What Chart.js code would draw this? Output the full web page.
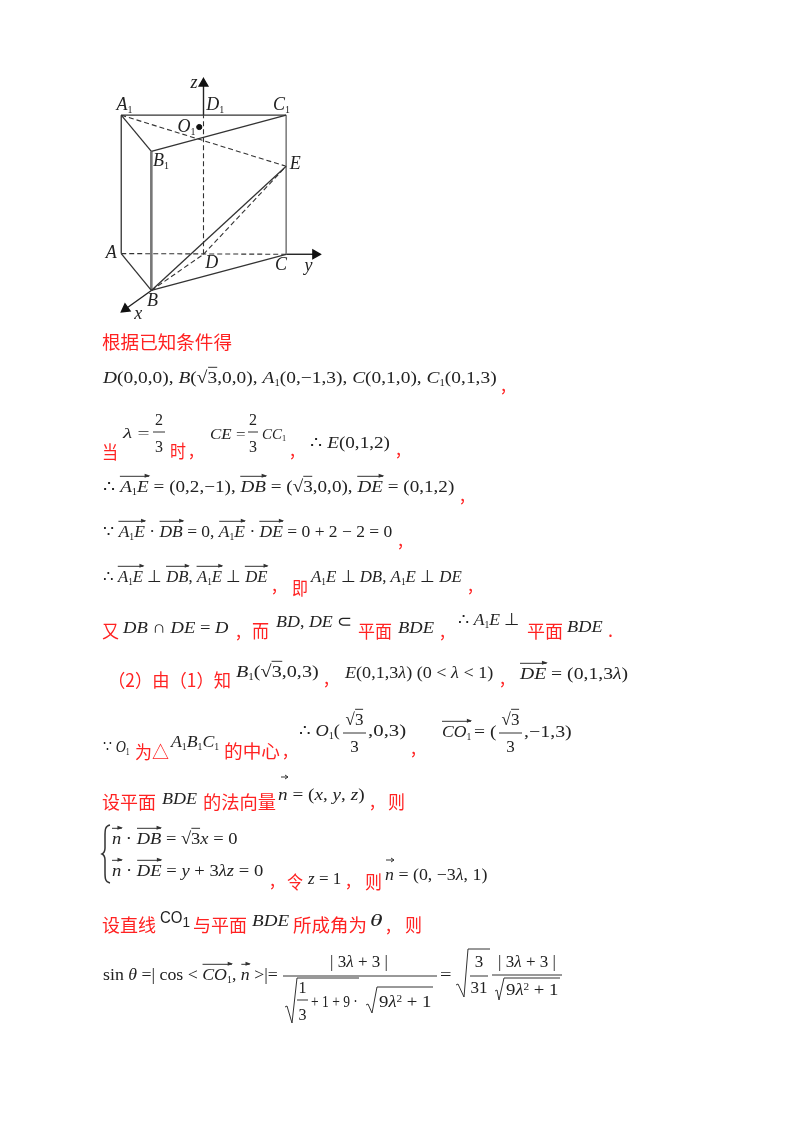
<!DOCTYPE html>
<html><head><meta charset="utf-8">
<script src="https://cdn.jsdelivr.net/npm/chart.js@4"></script>
<style>
html,body{margin:0;padding:0;background:#fff;width:800px;height:1134px;overflow:hidden}
#wrap{position:relative;width:800px;height:1134px}
canvas{position:absolute;left:0;top:0;filter:blur(.45px)}
#txt{position:absolute;left:0;top:0;width:800px;height:1134px;filter:blur(.4px)}
#deco{position:absolute;left:0;top:0;filter:blur(.4px)}
.t{position:absolute;white-space:nowrap;line-height:1.2;font-family:"Liberation Serif",serif;font-size:17px;color:#222;transform-origin:left center}
.r{color:#f22;font-family:"Noto Sans CJK SC",sans-serif;font-size:18px}
.s{font-size:.55em;position:relative;top:.28em;line-height:0;font-style:normal}
.u{font-size:.6em;position:relative;top:-.5em;line-height:0}
.v{position:relative;border-top:1px solid #333}
.v::after{content:"";position:absolute;right:-1px;top:-3px;border-left:5px solid #333;border-top:2px solid transparent;border-bottom:2px solid transparent}
.o{border-top:1px solid #333}
</style></head><body>
<div id="wrap"><canvas id="c" width="800" height="1134"></canvas><div id="txt"></div>
<svg id="deco" width="800" height="1134" fill="none" stroke="#333" stroke-width="1"></svg></div>
<script>
// Figure vertices (page-scale units)
const vertexNames = ["A1","C1","B1","A","C","B","E","D","D1"];
const vertexX = [116.7,284.3,147.3,116.7,284.3,147.3,284.3,200.3,200.3];
const vertexY = [110,110,146.7,250,250.7,287.3,161.7,250.7,110];
const solidEdges = [["A1","C1"],["A1","A"],["A1","B1"],["B1","C1"],["A","B"],["B","C"],["B","E"]];
const greyEdges = [["C1","C"],["B1","B"]];
const dashedEdges = [["A","C"],["D","D1"],["A1","E"],["B","D"],["D","E"]];
const axisNames = ["z","y","x"];
const axisFromX = [200.3,284.3,147.3];
const axisFromY = [110,250.7,287.3];
const axisToX = [200.3,314,121];
const axisToY = [78,250.7,306];
const centerPointX = [196];
const centerPointY = [122];
const labelNames = ["A","D","C","E","B","A","D","C","y","B","x","z","O"];
const labelSubs = ["1","1","1","","1","","","","","","","","1"];
const labelX = [112,203,271,288,149,101,202,273,303,143,130,187,174];
const labelY = [100,100,100,160,157,250,260,262,263,298,311,78,122];

const idx = n => vertexNames.indexOf(n);
const seg = (e,color,width,dash) => ({type:'scatter',showLine:true,
  data:e.map(n=>({x:vertexX[idx(n)],y:vertexY[idx(n)]})),
  borderColor:color,borderWidth:width,borderDash:dash,pointRadius:0,clip:false});
const datasets = [];
solidEdges.forEach(e=>datasets.push(seg(e,'#333',1.3,[])));
greyEdges.forEach((e,i)=>datasets.push(seg(e,'#777',i?2.6:1.5,[])));
dashedEdges.forEach(e=>datasets.push(seg(e,'#333',1.1,[5,3])));
axisNames.forEach((a,i)=>{
  const dx=axisToX[i]-axisFromX[i], dy=axisToY[i]-axisFromY[i];
  datasets.push({type:'scatter',showLine:true,
    data:[{x:axisFromX[i],y:axisFromY[i]},{x:axisToX[i],y:axisToY[i]}],
    borderColor:'#222',borderWidth:1.4,backgroundColor:'#111',pointBorderColor:'#111',
    pointRadius:[0,5],pointStyle:'triangle',pointRotation:Math.atan2(dx,-dy)*180/Math.PI,clip:false});
});
datasets.push({type:'scatter',data:centerPointX.map((x,i)=>({x,y:centerPointY[i]})),
  backgroundColor:'#111',borderColor:'#111',pointRadius:2.6});

const labelPlugin={id:'labels',afterDatasetsDraw(ch){
  const g=ch.ctx,sx=ch.scales.x,sy=ch.scales.y;
  g.save();g.fillStyle='#222';g.textBaseline='middle';g.textAlign='left';
  labelNames.forEach((n,i)=>{
    const px=sx.getPixelForValue(labelX[i]),py=sy.getPixelForValue(labelY[i]);
    g.font='italic 18px "Liberation Serif"';g.fillText(n,px,py);
    if(labelSubs[i]){const w=g.measureText(n).width;
      g.font='10px "Liberation Serif"';g.fillText(labelSubs[i],px+w,py+5);}
  });g.restore();}};
new Chart(document.getElementById('c'),{data:{datasets},plugins:[labelPlugin],options:{
  responsive:false,devicePixelRatio:1,animation:false,layout:{padding:0},
  plugins:{legend:{display:false},tooltip:{enabled:false}},
  scales:{x:{type:'linear',display:false,min:0,max:800},y:{type:'linear',display:false,reverse:true,min:0,max:1134}}}});

// Page text
const box=document.getElementById('txt'),deco=document.getElementById('deco');
function T(x0,x1,y,html,cls,size){const d=document.createElement('div');d.className='t '+(cls||'');
  d.innerHTML=html;d.style.left=x0+'px';d.style.top=y+'px';if(size)d.style.fontSize=size+'px';box.appendChild(d);
  const k=x1?(x1-x0)/d.offsetWidth:1;d.style.transform=`translateY(-50%) scaleX(${k})`;}
const R=(x0,x1,y,s)=>T(x0,x1,y,s,'r');
const K=(x,y)=>T(x-2,0,y-6,',','r');
const Cn=(x,y,s,size)=>{const d=document.createElement('div');d.className='t';d.innerHTML=s;d.style.left=x+'px';d.style.top=y+'px';
  if(size)d.style.fontSize=size+'px';d.style.transform='translate(-50%,-50%)';box.appendChild(d);};
function P(p,extra){const e=document.createElementNS('http://www.w3.org/2000/svg','polyline');e.setAttribute('points',p);
  if(extra)e.setAttribute('stroke-width',extra);deco.appendChild(e);}
const Frac=(x0,x1,a,b,c,n,m,size)=>{Cn((x0+x1)/2,a,n,size);P(`${x0},${b} ${x1},${b}`);Cn((x0+x1)/2,c,m,size);};
const Rad=(xa,ym,xb,yb,xc,yt,xe)=>P(`${xa},${ym} ${xa+2},${ym-1} ${xb},${yb} ${xc},${yt} ${xe},${yt}`);
const Arr=(x0,x1,y)=>{P(`${x0},${y} ${x1},${y}`);P(`${x1-3},${y-2} ${x1},${y} ${x1-3},${y+2}`);};
const s1='<span class="s">1</span>',I=s=>`<i>${s}</i>`,V=s=>`<span class="v">${s}</span>`;
const rt3='√<span class="o">3</span>',A1E=I('A')+s1+I('E'),vA1E=V(A1E),vDB=V(I('DB')),vDE=V(I('DE'));

R(102,232,342,'根据已知条件得');
T(103,497,378,`${I('D')}(0,0,0), ${I('B')}(${rt3},0,0), ${I('A')}${s1}(0,−1,3), ${I('C')}(0,1,0), ${I('C')}${s1}(0,1,3)`);K(503,390);

R(102,118,452,'当');T(123,150,433,`${I('λ')} =`,'',15);Frac(153,165,420,432,447,'2','3',16);
R(170,186,451,'时');K(191,455);
T(210,245,434,`${I('CE')} =`,'',15);Frac(248,258,420,432,447,'2','3',16);T(262,286,434,`${I('CC')}${s1}`,'',15);K(292,455);
T(310,390,443,`∴ ${I('E')}(0,1,2)`);K(398,454);

T(103,454,487,`∴ ${vA1E} = (0,2,−1), ${vDB} = (${rt3},0,0), ${vDE} = (0,1,2)`);K(462,500);
T(103,392,532,`∵ ${vA1E} · ${vDB} = 0, ${vA1E} · ${vDE} = 0 + 2 − 2 = 0`);K(400,545);

T(102.5,267,577,`∴ ${vA1E} ⊥ ${vDB}, ${vA1E} ⊥ ${vDE}`);K(274,590);R(292,308,588,'即');
T(311,462,577,`${A1E} ⊥ ${I('DB')}, ${A1E} ⊥ ${I('DE')}`);K(470,590);

R(102,119,631,'又');T(123,229,628,`${I('DB')} ∩ ${I('DE')} = ${I('D')}`);K(238,636);R(252,269,631,'而');
T(276,352,622,`${I('BD')}, ${I('DE')} ⊂`);R(358,392,631,'平面');T(398,434,628,I('BDE'));K(442,636);
T(458,520,620,`∴ ${A1E} ⊥`);R(527,563,631,'平面');T(567,602.5,627,I('BDE'));T(608,0,630,'.','r');

R(108,231,680,'（2）由（1）知');T(236,319,672,`${I('B')}${s1}(${rt3},0,3)`);K(326,683);
T(345,493,673,`${I('E')}(0,1,3${I('λ')}) (0 &lt; ${I('λ')} &lt; 1)`);K(502,683);
T(520,627.5,674,`${vDE} = (0,1,3${I('λ')})`);

T(102.5,129,747,`∵ ${I('O')}${s1}`);R(135,169,752,'为△');T(171,219,742,`${I('A')}${s1}${I('B')}${s1}${I('C')}${s1}`);
R(224,280,751,'的中心');K(285,755);
T(299,340,731,`∴ ${I('O')}${s1}(`);Frac(343,366,720,733,747,rt3,'3');T(368,406,731,',0,3)');K(413,753);
T(442,471,732,V(I('CO')+s1));T(474,497,732,'= (');Frac(499,522,720,733,747,rt3,'3');T(524,572,732,',−1,3)');

R(102,156,802,'设平面');T(162,197,799,I('BDE'));R(203,276,802,'的法向量');
T(278,365,795,`${I('n')} = (${I('x')}, ${I('y')}, ${I('z')})`);Arr(281,288,777);K(372,806);R(388,405,802,'则');

deco.insertAdjacentHTML('beforeend','<path d="M110 825 C105 826 105 830 105 836 L105 848 C105 852 104 853 102 854 C104 855 105 856 105 860 L105 872 C105 878 105 882 110 883" stroke-width="1.5"/>');
T(112,237,839,`${V(I('n'))} · ${vDB} = ${rt3}${I('x')} = 0`);
T(112,263,871,`${V(I('n'))} · ${vDE} = ${I('y')} + 3${I('λ')}${I('z')} = 0`);K(272,885);
R(287,303,882,'令');T(308,341,879,`${I('z')} = 1`);K(348,885);R(365,382,882,'则');
T(385,487,875,`${I('n')} = (0, −3${I('λ')}, 1)`);Arr(386,394,860);

R(102,156,925,'设直线');T(160,190,918,`<span style="font-family:'Liberation Sans'">CO<span class="s" style="font-size:.9em">1</span></span>`,'',17);
R(193,247,925,'与平面');T(252,289,921,I('BDE'));R(293,367,925,'所成角为');T(370,382,921,I('θ'));K(388,930);R(405,422,925,'则');

T(103,278,975,`sin ${I('θ')} =| cos &lt; ${V(I('CO')+s1)}, ${V(I('n'))} &gt;|=`);
Cn(359,962,`| 3${I('λ')} + 3 |`);P('283,976 437,976');
Frac(297,308,988,1000,1015,'1','3',16);Rad(285,1007,292,1023,297,978,359);
T(311,358,1002,'+ 1 + 9 ·');Rad(366,1005,372,1013,377,987,433);
T(379,432,1002,`9${I('λ')}<span class="u">2</span> + 1`);
T(440,452,975,'=');
Rad(456,985,464,997,468,949,490);Cn(479,962,'3');P('470,976 488,976');Cn(479,988,'31');
Cn(527,962,`| 3${I('λ')} + 3 |`);P('492,975 562,975');
Rad(495,991,499,1000,504,978,560);T(506,559,990,`9${I('λ')}<span class="u">2</span> + 1`);
</script></body></html>
